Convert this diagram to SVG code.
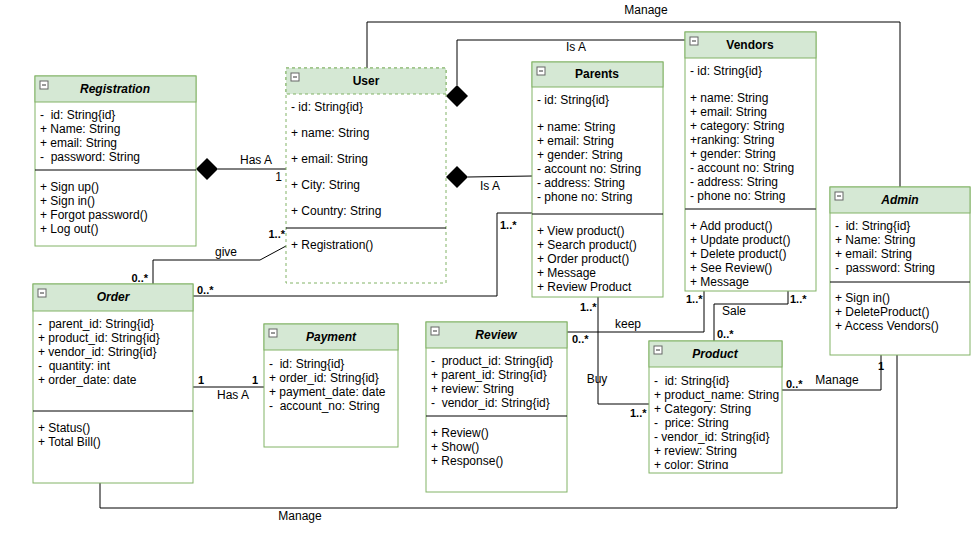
<svg xmlns="http://www.w3.org/2000/svg" width="978" height="533" viewBox="0 0 978 533">
<style>
.box{fill:#fff;stroke:#82b366;stroke-width:1}
.dash{stroke-dasharray:3 3}
.hdr{fill:#d5e8d4;stroke:#82b366;stroke-width:1}
.div{stroke:#000;stroke-width:1}
.t{font-family:"Liberation Sans",Arial,sans-serif;font-size:12px;fill:#000;white-space:pre}
.ti{font-family:"Liberation Sans",Arial,sans-serif;font-size:12px;font-weight:bold;text-anchor:middle;fill:#000}
.it{font-style:italic}
.ln{stroke:#000;stroke-width:1;fill:none}
.lb{font-family:"Liberation Sans",Arial,sans-serif;font-size:12px;fill:#000}
.mu{font-family:"Liberation Sans",Arial,sans-serif;font-size:11px;font-weight:bold;fill:#000}
.ic{fill:#fff;stroke:#666;stroke-width:1}
</style>
<defs>
<g id="icon"><rect class="ic" x="0" y="0" width="8" height="8"/><line x1="2" y1="4" x2="6" y2="4" stroke="#333"/></g>
<clipPath id="pclip"><rect x="649" y="367" width="133" height="102"/></clipPath>
</defs>
<rect width="978" height="533" fill="#fff"/>

<g id="connectors">
<polyline class="ln" points="367,68 367,22 900,22 900,187"/>
<text class="lb" x="646" y="14" text-anchor="middle">Manage</text>
<polyline class="ln" points="685,40 457,40 457,85"/>
<polygon points="457,85 468,96 457,107 446,96" fill="#000"/>
<text class="lb" x="576" y="51" text-anchor="middle">Is A</text>
<line class="ln" x1="468" y1="177" x2="532" y2="176"/>
<polygon points="446,177 457,166 468,177 457,188" fill="#000"/>
<text class="lb" x="490" y="190" text-anchor="middle">Is A</text>
<line class="ln" x1="218" y1="169" x2="286" y2="169"/>
<polygon points="196,169 207,158 218,169 207,180" fill="#000"/>
<text class="lb" x="256" y="164" text-anchor="middle">Has A</text>
<text class="lb" x="282" y="181" text-anchor="end" font-size="11">1</text>
<polyline class="ln" points="286,246 260,260 153,260 153,284"/>
<text class="lb" x="226" y="256" text-anchor="middle">give</text>
<text class="mu" x="285" y="238" text-anchor="end">1..*</text>
<text class="mu" x="148" y="282" text-anchor="end">0..*</text>
<polyline class="ln" points="532,213 497,213 497,296 193,296"/>
<text class="mu" x="500" y="229">1..*</text>
<text class="mu" x="197" y="294">0..*</text>
<line class="ln" x1="193" y1="387" x2="264" y2="387"/>
<text class="mu" x="198" y="384">1</text>
<text class="mu" x="252" y="384">1</text>
<text class="lb" x="233" y="399" text-anchor="middle">Has A</text>
<polyline class="ln" points="704,291 704,332 567,332"/>
<text class="mu" x="686" y="303">1..*</text>
<text class="lb" x="628" y="328" text-anchor="middle">keep</text>
<text class="mu" x="572" y="343">0..*</text>
<polyline class="ln" points="598,297 598,404 649,404"/>
<text class="mu" x="580" y="311">1..*</text>
<text class="lb" x="597" y="383" text-anchor="middle">Buy</text>
<text class="mu" x="630" y="417">1..*</text>
<polyline class="ln" points="788,291 788,304 714,304 714,341"/>
<text class="mu" x="790" y="303">1..*</text>
<text class="lb" x="734" y="315" text-anchor="middle">Sale</text>
<text class="mu" x="717" y="338">0..*</text>
<polyline class="ln" points="782,390 881,390 881,355"/>
<text class="mu" x="786" y="388">0..*</text>
<text class="lb" x="837" y="384" text-anchor="middle">Manage</text>
<text class="mu" x="878" y="370">1</text>
<polyline class="ln" points="100,483 100,508 897,508 897,355"/>
<text class="lb" x="300" y="520" text-anchor="middle">Manage</text>
</g>

<g id="registration">
<rect class="box" x="35" y="76" width="161" height="170"/>
<rect class="hdr" x="35" y="76" width="161" height="26"/>
<use href="#icon" x="40" y="81"/>
<text class="ti it" x="115" y="93">Registration</text>
<text class="t" x="40" y="119">-  id: String{id}</text>
<text class="t" x="40" y="133">+ Name: String</text>
<text class="t" x="40" y="147">+ email: String</text>
<text class="t" x="40" y="161">-  password: String</text>
<line class="div" x1="35" y1="170" x2="196" y2="170"/>
<text class="t" x="40" y="191">+ Sign up()</text>
<text class="t" x="40" y="205">+ Sign in()</text>
<text class="t" x="40" y="219">+ Forgot password()</text>
<text class="t" x="40" y="233">+ Log out()</text>
</g>

<g id="user">
<rect class="box dash" x="286" y="68" width="160" height="215"/>
<rect class="hdr dash" x="286" y="68" width="160" height="26"/>
<use href="#icon" x="291" y="73"/>
<text class="ti" x="366" y="85">User</text>
<text class="t" x="291" y="111">- id: String{id}</text>
<text class="t" x="291" y="137">+ name: String</text>
<text class="t" x="291" y="163">+ email: String</text>
<text class="t" x="291" y="189">+ City: String</text>
<text class="t" x="291" y="215">+ Country: String</text>
<line class="div" x1="286" y1="228" x2="446" y2="228"/>
<text class="t" x="291" y="249">+ Registration()</text>
</g>

<g id="parents">
<rect class="box" x="532" y="62" width="131" height="235"/>
<rect class="hdr" x="532" y="62" width="131" height="25"/>
<use href="#icon" x="537" y="67"/>
<text class="ti" x="597" y="78">Parents</text>
<text class="t" x="537" y="104">- id: String{id}</text>
<text class="t" x="537" y="131">+ name: String</text>
<text class="t" x="537" y="145">+ email: String</text>
<text class="t" x="537" y="159">+ gender: String</text>
<text class="t" x="537" y="173">- account no: String</text>
<text class="t" x="537" y="187">- address: String</text>
<text class="t" x="537" y="201">- phone no: String</text>
<line class="div" x1="532" y1="214" x2="663" y2="214"/>
<text class="t" x="537" y="235">+ View product()</text>
<text class="t" x="537" y="249">+ Search product()</text>
<text class="t" x="537" y="263">+ Order product()</text>
<text class="t" x="537" y="277">+ Message</text>
<text class="t" x="537" y="291">+ Review Product</text>
</g>

<g id="vendors">
<rect class="box" x="685" y="32" width="131" height="259"/>
<rect class="hdr" x="685" y="32" width="131" height="26"/>
<use href="#icon" x="690" y="37"/>
<text class="ti" x="750" y="49">Vendors</text>
<text class="t" x="690" y="75">- id: String{id}</text>
<text class="t" x="690" y="102">+ name: String</text>
<text class="t" x="690" y="116">+ email: String</text>
<text class="t" x="690" y="130">+ category: String</text>
<text class="t" x="690" y="144">+ranking: String</text>
<text class="t" x="690" y="158">+ gender: String</text>
<text class="t" x="690" y="172">- account no: String</text>
<text class="t" x="690" y="186">- address: String</text>
<text class="t" x="690" y="200">- phone no: String</text>
<line x1="685" y1="209" x2="816" y2="209" stroke="#555" stroke-width="1.5"/>
<text class="t" x="690" y="230">+ Add product()</text>
<text class="t" x="690" y="244">+ Update product()</text>
<text class="t" x="690" y="258">+ Delete product()</text>
<text class="t" x="690" y="272">+ See Review()</text>
<text class="t" x="690" y="286">+ Message</text>
</g>

<g id="admin">
<rect class="box" x="830" y="187" width="140" height="168"/>
<rect class="hdr" x="830" y="187" width="140" height="26"/>
<use href="#icon" x="835" y="192"/>
<text class="ti it" x="900" y="204">Admin</text>
<text class="t" x="835" y="230">-  id: String{id}</text>
<text class="t" x="835" y="244">+ Name: String</text>
<text class="t" x="835" y="258">+ email: String</text>
<text class="t" x="835" y="272">-  password: String</text>
<line class="div" x1="830" y1="282" x2="970" y2="282"/>
<text class="t" x="835" y="302">+ Sign in()</text>
<text class="t" x="835" y="316">+ DeleteProduct()</text>
<text class="t" x="835" y="330">+ Access Vendors()</text>
</g>

<g id="order">
<rect class="box" x="33" y="284" width="160" height="199"/>
<rect class="hdr" x="33" y="284" width="160" height="27"/>
<use href="#icon" x="38" y="289"/>
<text class="ti it" x="113" y="301">Order</text>
<text class="t" x="38" y="328">-  parent_id: String{id}</text>
<text class="t" x="38" y="342">+ product_id: String{id}</text>
<text class="t" x="38" y="356">+ vendor_id: String{id}</text>
<text class="t" x="38" y="370">-  quantity: int</text>
<text class="t" x="38" y="384">+ order_date: date</text>
<line class="div" x1="33" y1="411" x2="193" y2="411"/>
<text class="t" x="38" y="432">+ Status()</text>
<text class="t" x="38" y="446">+ Total Bill()</text>
</g>

<g id="payment">
<rect class="box" x="264" y="324" width="134" height="123"/>
<rect class="hdr" x="264" y="324" width="134" height="26"/>
<use href="#icon" x="269" y="329"/>
<text class="ti it" x="331" y="341">Payment</text>
<text class="t" x="269" y="368">-  id: String{id}</text>
<text class="t" x="269" y="382">+ order_id: String{id}</text>
<text class="t" x="269" y="396">+ payment_date: date</text>
<text class="t" x="269" y="410">-  account_no: String</text>
</g>

<g id="review">
<rect class="box" x="426" y="322" width="141" height="170"/>
<rect class="hdr" x="426" y="322" width="141" height="26"/>
<use href="#icon" x="431" y="327"/>
<text class="ti it" x="496" y="339">Review</text>
<text class="t" x="431" y="365">-  product_id: String{id}</text>
<text class="t" x="431" y="379">+ parent_id: String{id}</text>
<text class="t" x="431" y="393">+ review: String</text>
<text class="t" x="431" y="407">-  vendor_id: String{id}</text>
<line class="div" x1="426" y1="416" x2="567" y2="416"/>
<text class="t" x="431" y="437">+ Review()</text>
<text class="t" x="431" y="451">+ Show()</text>
<text class="t" x="431" y="465">+ Response()</text>
</g>

<g id="product">
<rect class="box" x="649" y="341" width="133" height="132"/>
<rect class="hdr" x="649" y="341" width="133" height="26"/>
<use href="#icon" x="654" y="346"/>
<text class="ti it" x="715" y="358">Product</text>
<g clip-path="url(#pclip)">
<text class="t" x="654" y="385">-  id: String{id}</text>
<text class="t" x="654" y="399">+ product_name: String</text>
<text class="t" x="654" y="413">+ Category: String</text>
<text class="t" x="654" y="427">-  price: String</text>
<text class="t" x="654" y="441">- vendor_id: String{id}</text>
<text class="t" x="654" y="455">+ review: String</text>
<text class="t" x="654" y="469">+ color: String</text>
</g>
</g>
</svg>
